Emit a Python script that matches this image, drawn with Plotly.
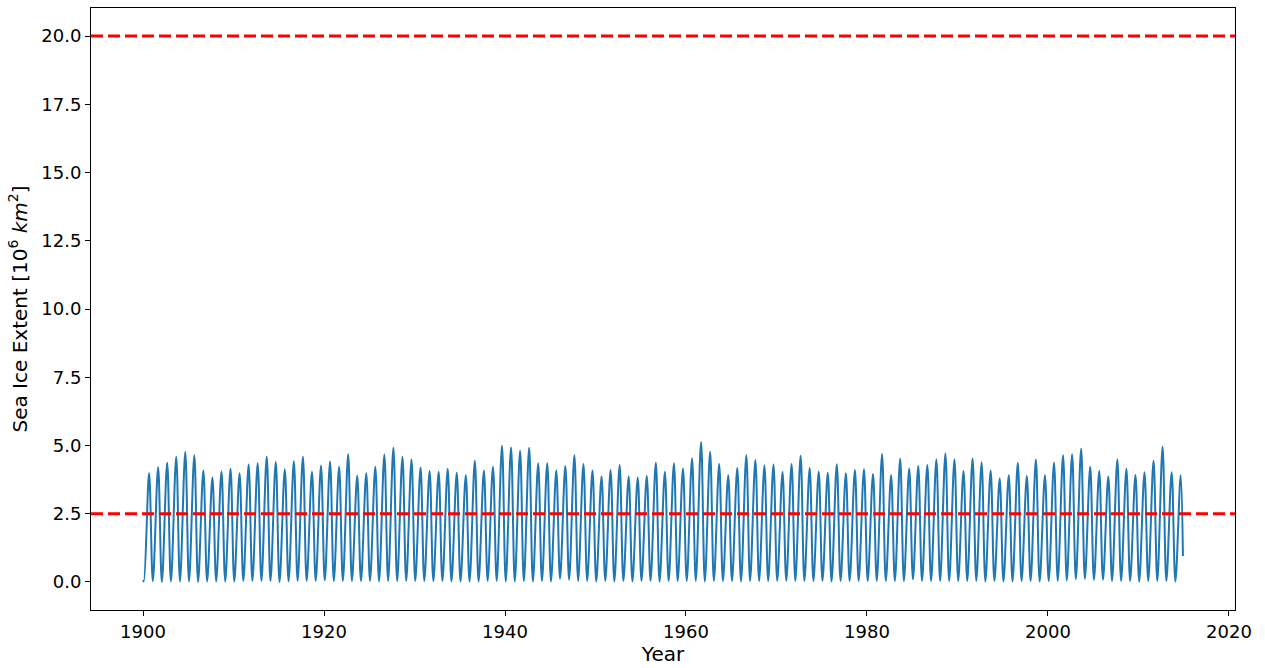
import plotly.graph_objects as go

# Annual cycle extremes of sea ice extent (10^6 km^2)
years = list(range(1900, 2015))

# September maxima, one per year 1900-2014
peaks = [
    3.98, 4.20, 4.37, 4.59, 4.76, 4.64, 4.08, 3.83, 4.05, 4.15,
    3.98, 4.30, 4.35, 4.59, 4.40, 4.13, 4.42, 4.59, 4.04, 4.27,
    4.41, 4.22, 4.68, 3.89, 3.98, 4.22, 4.67, 4.92, 4.59, 4.49,
    4.19, 4.07, 4.04, 4.15, 4.00, 3.91, 4.44, 4.08, 4.22, 4.99,
    4.93, 4.81, 4.92, 4.35, 4.35, 4.08, 4.25, 4.64, 4.32, 4.08,
    3.86, 4.10, 4.29, 3.86, 3.83, 3.88, 4.37, 4.04, 4.35, 4.16,
    4.53, 5.13, 4.77, 4.32, 3.91, 4.18, 4.64, 4.47, 4.27, 4.30,
    4.03, 4.32, 4.62, 4.18, 4.05, 4.00, 4.31, 3.98, 4.10, 4.13,
    3.96, 4.69, 3.91, 4.51, 4.16, 4.25, 4.29, 4.49, 4.71, 4.49,
    4.07, 4.52, 4.38, 4.08, 3.79, 3.91, 4.37, 3.88, 4.49, 3.91,
    4.38, 4.64, 4.68, 4.88, 4.22, 4.07, 3.86, 4.49, 4.15, 3.92,
    4.02, 4.44, 4.95, 4.02, 3.91,
]

# February minima, one per year 1900-2014
troughs = [
    0.02, 0.03, 0.00, 0.02, 0.02, 0.02, 0.00, 0.02, 0.02, 0.02,
    0.02, 0.04, 0.04, 0.04, 0.04, 0.00, 0.02, 0.04, 0.04, 0.04,
    0.06, 0.04, 0.04, 0.04, 0.04, 0.04, 0.02, 0.04, 0.04, 0.04,
    0.04, 0.04, 0.04, 0.04, 0.02, 0.02, 0.02, 0.02, 0.04, 0.04,
    0.02, 0.02, 0.04, 0.02, 0.04, 0.02, 0.12, 0.08, 0.04, 0.04,
    0.02, 0.04, 0.02, 0.04, 0.02, 0.04, 0.04, 0.02, 0.04, 0.04,
    0.04, 0.04, 0.02, 0.04, 0.04, 0.04, 0.02, 0.04, 0.04, 0.04,
    0.04, 0.04, 0.04, 0.04, 0.04, 0.04, 0.02, 0.04, 0.04, 0.04,
    0.04, 0.04, 0.04, 0.04, 0.04, 0.10, 0.04, 0.04, 0.04, 0.04,
    0.04, 0.04, 0.04, 0.02, 0.04, 0.02, 0.02, 0.04, 0.04, 0.02,
    0.04, 0.04, 0.06, 0.10, 0.12, 0.08, 0.08, 0.04, 0.04, 0.04,
    0.02, 0.04, 0.04, 0.04, 0.02,
]

start_value = 0.07   # January 1900
end_value = 0.95     # December 2014

threshold_values = [20.0, 2.5]

x_ticks = [1900, 1920, 1940, 1960, 1980, 2000, 2020]
y_ticks = [0.0, 2.5, 5.0, 7.5, 10.0, 12.5, 15.0, 17.5, 20.0]

# Sequence of (time, extent) points: Jan start, then Feb minimum and Sep maximum of each year
xs = [years[0]]
ys = [start_value]
for yr, lo, hi in zip(years, troughs, peaks):
    xs += [yr + 1 / 12, yr + 8 / 12]
    ys += [lo, hi]
xs.append(years[-1] + 11 / 12)
ys.append(end_value)

fig = go.Figure()
fig.add_trace(go.Scatter(
    x=xs, y=ys, mode="lines",
    line=dict(color="#1f77b4", width=2, shape="spline", smoothing=1.0),
    showlegend=False, hoverinfo="skip",
))

for v in threshold_values:
    fig.add_shape(
        type="line", xref="paper", x0=0, x1=1, yref="y", y0=v, y1=v,
        line=dict(color="red", width=3, dash="12px,5px"), layer="above",
    )

font_family = "DejaVu Sans"
fig.update_layout(
    width=1265, height=668,
    margin=dict(l=91, r=30, t=8, b=58),
    paper_bgcolor="white", plot_bgcolor="white",
    font=dict(family=font_family, size=18, color="black"),
    showlegend=False,
)
fig.update_xaxes(
    range=[1894.25, 2020.67], tickvals=x_ticks, ticktext=[str(t) for t in x_ticks],
    showgrid=False, zeroline=False, showline=True, linecolor="black", linewidth=1,
    mirror=True, ticks="outside", ticklen=5, tickcolor="black", automargin=False,
    title=dict(text="Year", font=dict(size=20), standoff=6),
)
fig.update_yaxes(
    range=[-1.026, 21.026], tickvals=y_ticks, ticktext=[f"{t:.1f}" for t in y_ticks],
    showgrid=False, zeroline=False, showline=True, linecolor="black", linewidth=1,
    mirror=True, ticks="outside", ticklen=5, tickcolor="black", automargin=False,
    title=dict(text="Sea Ice Extent [10<sup>6</sup> <i>km</i><sup>2</sup>]",
               font=dict(size=20), standoff=8),
)

fig.write_html("out.html")
